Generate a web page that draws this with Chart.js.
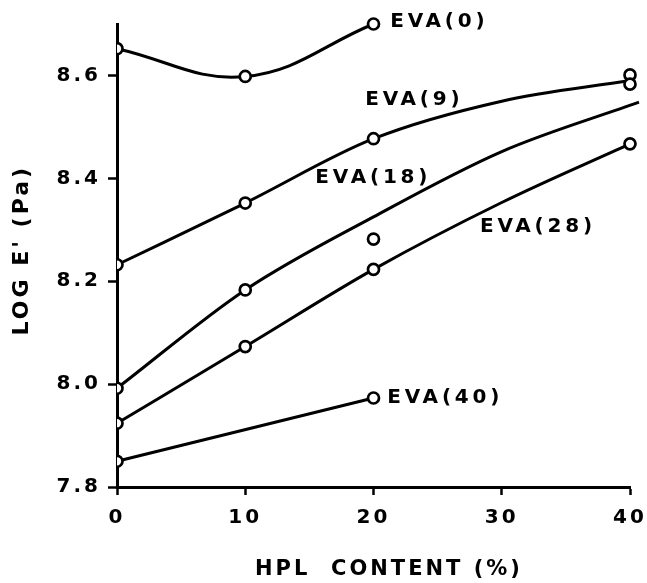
<!DOCTYPE html>
<html>
<head>
<meta charset="utf-8">
<style>
html,body{margin:0;padding:0;background:#fff;}
#wrap{width:647px;height:583px;position:relative;}
</style>
<script src="https://cdn.jsdelivr.net/npm/chart.js@4/dist/chart.umd.min.js"></script>
</head>
<body>
<div id="wrap"><canvas id="c" width="647" height="583"></canvas></div>
<script>
// ---------- data ----------
const xTickValues = [0, 10, 20, 30, 40];
const yTickValues = [7.8, 8.0, 8.2, 8.4, 8.6];
const seriesNames = ['EVA(0)', 'EVA(9)', 'EVA(18)', 'EVA(28)', 'EVA(40)'];

// measured points (HPL content %, log E')
const eva0PointsX = [0, 10, 20];
const eva0PointsY = [8.652, 8.598, 8.700];
const eva9PointsX = [0, 10, 20, 40, 40];
const eva9PointsY = [8.232, 8.352, 8.477, 8.601, 8.583];
const eva18PointsX = [0, 10, 20];
const eva18PointsY = [7.992, 8.183, 8.282];
const eva28PointsX = [0, 10, 20, 40];
const eva28PointsY = [7.924, 8.073, 8.223, 8.467];
const eva40PointsX = [0, 20];
const eva40PointsY = [7.850, 7.973];

// drawn smooth curves
const eva0CurveX = [0, 10, 20];
const eva0CurveY = [8.652, 8.598, 8.700];
const eva9CurveX = [0, 10, 20, 30, 40];
const eva9CurveY = [8.232, 8.352, 8.477, 8.550, 8.590];
const eva18CurveX = [0, 10, 20, 30, 40.7];
const eva18CurveY = [7.992, 8.183, 8.325, 8.452, 8.548];
const eva28CurveX = [0, 10, 20, 30, 40];
const eva28CurveY = [7.924, 8.073, 8.223, 8.353, 8.467];
const eva40CurveX = [0, 20];
const eva40CurveY = [7.850, 7.973];

// label anchors (data coordinates) for the series names
const labelX = [21.3, 19.35, 15.46, 28.3, 21.07];
const labelY = [8.704, 8.552, 8.401, 8.305, 7.973];

// ---------- build datasets ----------
const zip = (xs, ys) => xs.map((x, i) => ({x: x, y: ys[i]}));
const curves = [
  [eva0CurveX, eva0CurveY], [eva9CurveX, eva9CurveY], [eva18CurveX, eva18CurveY],
  [eva28CurveX, eva28CurveY], [eva40CurveX, eva40CurveY]
];
const points = [
  [eva0PointsX, eva0PointsY], [eva9PointsX, eva9PointsY], [eva18PointsX, eva18PointsY],
  [eva28PointsX, eva28PointsY], [eva40PointsX, eva40PointsY]
];

const datasets = [];
points.forEach((p, i) => {
  datasets.push({
    type: 'scatter',
    label: seriesNames[i] + ' data',
    data: zip(p[0], p[1]),
    showLine: false,
    pointStyle: 'circle',
    pointRadius: 5.5,
    pointBorderWidth: 2.7,
    pointBorderColor: '#000',
    pointBackgroundColor: '#fff',
    order: 0,
    clip: {left: 0, top: false, right: false, bottom: false}
  });
});
curves.forEach((c, i) => {
  datasets.push({
    type: 'line',
    label: seriesNames[i],
    data: zip(c[0], c[1]),
    borderColor: '#000',
    borderWidth: 3,
    tension: 0.4,
    // the non-monotonic EVA(0) curve uses the default spline; the others are monotone
    cubicInterpolationMode: i === 0 ? 'default' : 'monotone',
    pointRadius: 0,
    fill: false,
    order: 1,
    clip: false
  });
});

const FONT = '"DejaVu Sans", "Liberation Sans", Arial, sans-serif';

const spacingPlugin = {
  id: 'spacing',
  beforeDraw(chart) { chart.ctx.letterSpacing = '3px'; }
};

const seriesLabelPlugin = {
  id: 'seriesLabels',
  afterDatasetsDraw(chart) {
    const ctx = chart.ctx;
    const xs = chart.scales.x, ys = chart.scales.y;
    ctx.save();
    ctx.font = 'bold 20px ' + FONT;
    ctx.letterSpacing = '3.8px';
    ctx.fillStyle = '#000';
    ctx.textAlign = 'left';
    ctx.textBaseline = 'middle';
    seriesNames.forEach((name, i) => {
      ctx.fillText(name, xs.getPixelForValue(labelX[i]), ys.getPixelForValue(labelY[i]));
    });
    ctx.restore();
  }
};

new Chart(document.getElementById('c'), {
  data: {datasets: datasets},
  options: {
    responsive: false,
    animation: false,
    devicePixelRatio: 1,
    layout: {padding: {left: 0, right: 17, top: 24, bottom: 0}},
    plugins: {legend: {display: false}, tooltip: {enabled: false}},
    scales: {
      x: {
        type: 'linear',
        min: 0, max: 40,
        afterFit(scale) { scale.height = 96; scale.paddingLeft = 0; scale.paddingRight = 0; },
        afterBuildTicks(scale) { scale.ticks = xTickValues.map(v => ({value: v})); },
        border: {display: true, color: '#000', width: 3},
        grid: {drawOnChartArea: false, drawTicks: true, tickLength: 8, tickWidth: 2.5, tickColor: '#000'},
        ticks: {color: '#000', font: {family: FONT, size: 20, weight: 'bold'}, padding: 11,
                maxRotation: 0, callback: v => String(v)},
        title: {display: true, text: '   HPL  CONTENT (%)', color: '#000',
                font: {family: FONT, size: 21, weight: 'bold'}, padding: {top: 0, bottom: 1}}
      },
      y: {
        type: 'linear',
        min: 7.8, max: 8.7,
        afterFit(scale) { scale.width = 117; scale.paddingTop = 0; scale.paddingBottom = 0; },
        afterBuildTicks(scale) { scale.ticks = yTickValues.map(v => ({value: v})); },
        border: {display: true, color: '#000', width: 3},
        grid: {drawOnChartArea: false, drawTicks: true, tickLength: 9, tickWidth: 2.5, tickColor: '#000'},
        ticks: {color: '#000', font: {family: FONT, size: 20, weight: 'bold'}, padding: 7,
                callback: v => Number(v).toFixed(1)},
        title: {display: true, text: " LOG E' (Pa)", color: '#000',
                font: {family: FONT, size: 22, weight: 'bold'}, padding: {top: 9, bottom: 0}}
      }
    }
  },
  plugins: [spacingPlugin, seriesLabelPlugin]
});
</script>
</body>
</html>
